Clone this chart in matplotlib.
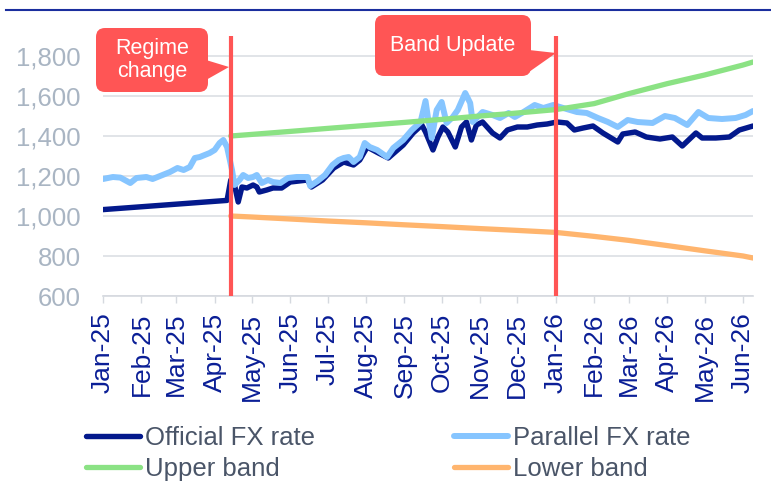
import matplotlib.pyplot as plt
import matplotlib.dates as mdates
from matplotlib.patches import FancyBboxPatch, Polygon
from matplotlib.lines import Line2D
from matplotlib.transforms import IdentityTransform
import pandas as pd

plt.rcParams['font.family'] = ['Liberation Sans', 'DejaVu Sans']

# official FX rate (ARS per USD)
official_dates = ['2025-01-01', '2025-04-11', '2025-04-14', '2025-04-17', '2025-04-20', '2025-04-23',
                  '2025-04-27', '2025-05-02', '2025-05-05', '2025-05-07', '2025-05-13', '2025-05-18',
                  '2025-05-25', '2025-06-01', '2025-06-15', '2025-06-18', '2025-06-27', '2025-07-06',
                  '2025-07-14', '2025-07-22', '2025-07-27', '2025-08-02', '2025-08-11', '2025-08-19',
                  '2025-08-31', '2025-09-08', '2025-09-15', '2025-09-18', '2025-09-24', '2025-09-28',
                  '2025-10-02', '2025-10-06', '2025-10-12', '2025-10-17', '2025-10-21', '2025-10-25',
                  '2025-10-29', '2025-11-03', '2025-11-11', '2025-11-17', '2025-11-23', '2025-12-01',
                  '2025-12-09', '2025-12-17', '2025-12-25', '2026-01-02', '2026-01-10', '2026-01-16',
                  '2026-01-23', '2026-01-31', '2026-02-08', '2026-02-20', '2026-02-24', '2026-03-06',
                  '2026-03-15', '2026-03-26', '2026-04-05', '2026-04-13', '2026-04-24', '2026-04-29',
                  '2026-05-10', '2026-05-21', '2026-05-29', '2026-06-09']
official_values = [1032, 1078, 1180, 1155, 1070, 1145,
                   1140, 1155, 1145, 1120, 1130, 1140,
                   1140, 1170, 1180, 1145, 1180, 1240,
                   1270, 1255, 1280, 1345, 1315, 1290,
                   1355, 1415, 1455, 1420, 1330, 1395,
                   1445, 1420, 1345, 1445, 1470, 1380,
                   1455, 1470, 1415, 1390, 1430, 1445,
                   1445, 1455, 1460, 1470, 1465, 1430,
                   1440, 1450, 1415, 1370, 1410, 1420,
                   1395, 1385, 1395, 1350, 1415, 1390,
                   1390, 1395, 1430, 1450]

# parallel FX rate
parallel_dates = ['2025-01-01', '2025-01-09', '2025-01-15', '2025-01-23', '2025-01-28', '2025-02-05',
                  '2025-02-10', '2025-02-18', '2025-02-24', '2025-03-02', '2025-03-07', '2025-03-12',
                  '2025-03-16', '2025-03-20', '2025-03-28', '2025-04-01', '2025-04-05', '2025-04-08',
                  '2025-04-11', '2025-04-15', '2025-04-17', '2025-04-21', '2025-04-24', '2025-04-28',
                  '2025-05-02', '2025-05-05', '2025-05-09', '2025-05-14', '2025-05-18', '2025-05-24',
                  '2025-05-30', '2025-06-06', '2025-06-15', '2025-06-17', '2025-06-23', '2025-06-29',
                  '2025-07-05', '2025-07-10', '2025-07-14', '2025-07-18', '2025-07-22', '2025-07-27',
                  '2025-07-31', '2025-08-04', '2025-08-10', '2025-08-18', '2025-08-23', '2025-08-31',
                  '2025-09-07', '2025-09-14', '2025-09-18', '2025-09-20', '2025-09-23', '2025-09-27',
                  '2025-10-01', '2025-10-05', '2025-10-10', '2025-10-14', '2025-10-20', '2025-10-24',
                  '2025-10-26', '2025-11-03', '2025-11-11', '2025-11-17', '2025-11-24', '2025-11-29',
                  '2025-12-06', '2025-12-15', '2025-12-22', '2025-12-30', '2026-01-07', '2026-01-18',
                  '2026-01-26', '2026-02-04', '2026-02-12', '2026-02-20', '2026-02-28', '2026-03-08',
                  '2026-03-20', '2026-03-30', '2026-04-07', '2026-04-17', '2026-04-26', '2026-05-04',
                  '2026-05-15', '2026-05-26', '2026-06-03', '2026-06-09']
parallel_values = [1185, 1195, 1192, 1165, 1190, 1195,
                   1185, 1205, 1220, 1240, 1230, 1245,
                   1290, 1295, 1315, 1330, 1365, 1380,
                   1345, 1230, 1155, 1180, 1205, 1190,
                   1195, 1205, 1165, 1180, 1170, 1165,
                   1190, 1195, 1195, 1150, 1175, 1205,
                   1255, 1280, 1290, 1295, 1270, 1295,
                   1365, 1345, 1330, 1295, 1340, 1380,
                   1430, 1470, 1575, 1490, 1390, 1530,
                   1570, 1465, 1495, 1530, 1615, 1565,
                   1470, 1520, 1505, 1490, 1515, 1495,
                   1520, 1555, 1540, 1555, 1540, 1520,
                   1515, 1490, 1470, 1445, 1480, 1470,
                   1465, 1500, 1490, 1455, 1520, 1490,
                   1485, 1490, 1505, 1525]

# exchange rate band
band_dates = ['2025-04-14', '2025-05-01', '2025-06-01', '2025-07-01', '2025-08-01', '2025-09-01',
              '2025-10-01', '2025-11-01', '2025-12-01', '2026-01-01', '2026-02-01', '2026-03-01',
              '2026-04-01', '2026-05-01', '2026-06-01', '2026-06-09']
upper_values = [1400, 1408, 1423, 1438, 1453, 1468,
                1483, 1500, 1515, 1532, 1562, 1612,
                1662, 1705, 1755, 1770]
lower_values = [1000, 995, 985, 975, 966, 956,
                947, 937, 928, 918, 898, 878,
                852, 826, 800, 790]

events = ['2025-04-14', '2026-01-01']

fig = plt.figure(figsize=(7.71, 4.82), dpi=100)
ax = fig.add_axes([103 / 771, 1 - 296 / 482, 650 / 771, 260 / 482])

ax.plot(pd.to_datetime(official_dates), official_values, color='#03198C', lw=3.9,
        label='Official FX rate', solid_capstyle='round')
ax.plot(pd.to_datetime(parallel_dates), parallel_values, color='#86C5FF', lw=4.3,
        label='Parallel FX rate', solid_capstyle='round')
ax.plot(pd.to_datetime(band_dates), upper_values, color='#8BE284', lw=3.8,
        label='Upper band', solid_capstyle='round')
ax.plot(pd.to_datetime(band_dates), lower_values, color='#FFB56E', lw=3.8,
        label='Lower band', solid_capstyle='round')
for d in events:
    ax.axvline(pd.Timestamp(d), color='#FF5555', lw=3, zorder=5)

ax.set_xlim(pd.Timestamp('2025-01-01'), pd.Timestamp('2026-06-09'))
ax.set_ylim(600, 1900)
ax.set_yticks(range(600, 1801, 200))
ax.yaxis.set_major_formatter(plt.FuncFormatter(lambda v, p: f'{v:,.0f}'))
ax.xaxis.set_major_locator(mdates.MonthLocator())
ax.xaxis.set_major_formatter(mdates.DateFormatter('%b-%y'))

ax.grid(axis='y', color='#DCDFE4', lw=1.2)
ax.set_axisbelow(True)
for s in ['top', 'right', 'left']:
    ax.spines[s].set_visible(False)
ax.spines['bottom'].set_color('#D5D9DF')
ax.spines['bottom'].set_linewidth(1.2)
ax.tick_params(axis='y', length=0, pad=16, labelsize=18.5, labelcolor='#A9B5C3')
ax.tick_params(axis='x', length=5, width=1, color='#D5D9DF', pad=7, labelsize=19,
               labelcolor='#0A1E96', labelrotation=90)

# legend, 2 columns
h, l = ax.get_legend_handles_labels()
order = [0, 2, 1, 3]
fig.legend([h[i] for i in order], [l[i] for i in order], ncol=2, loc='upper left',
           bbox_to_anchor=(86 / 771, 1 - 426 / 482), frameon=False, fontsize=18.5,
           labelcolor='#4A5568', handlelength=2.1, handletextpad=0.2, columnspacing=5.4,
           labelspacing=0.28, borderpad=0, borderaxespad=0)

# callouts, drawn in pixel space
H = 482
px = IdentityTransform()


def callout(x0, y0, x1, y1, tri, text):
    box = FancyBboxPatch((x0, H - y1), x1 - x0, y1 - y0, boxstyle='round,pad=0,rounding_size=9',
                         fc='#FF5555', ec='none', transform=px)
    fig.add_artist(box)
    fig.add_artist(Polygon([(x, H - y) for x, y in tri], closed=True, fc='#FF5555', ec='none',
                           transform=px))
    fig.text((x0 + x1) / 2, H - (y0 + y1) / 2, text, transform=px, ha='center', va='center',
             color='white', fontsize=15.5, linespacing=1.15)


callout(96, 28, 208, 92, [(206, 60), (229, 67), (206, 80)], 'Regime\nchange')
callout(375, 15, 531, 76, [(529, 50), (556, 53), (529, 72)], 'Band Update')

# top rule
fig.add_artist(Line2D([6 / 771, 1], [1 - 10 / 482, 1 - 10 / 482], color='#1B2E9E', lw=1.5))

fig.savefig('out.png', dpi=100)
